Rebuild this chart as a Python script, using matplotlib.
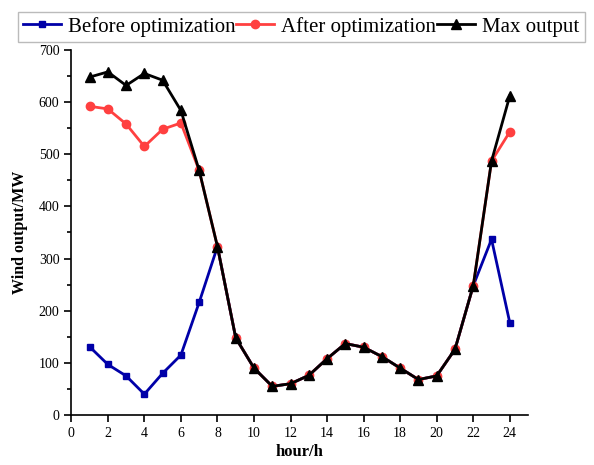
import matplotlib.pyplot as plt
from matplotlib.ticker import MultipleLocator

plt.rcParams['font.family'] = ['Liberation Serif', 'DejaVu Serif']

hours = list(range(1, 25))
before = [131, 97, 75, 40, 80, 115, 216, 323, 148, 90, 55, 60, 76, 108, 137, 130, 112, 90, 68, 75, 126, 248, 337, 177]
after = [592, 587, 558, 515, 548, 560, 469, 323, 148, 90, 55, 60, 76, 108, 137, 130, 112, 90, 68, 75, 126, 248, 487, 543]
max_out = [648, 658, 632, 655, 642, 584, 469, 323, 148, 90, 55, 60, 76, 108, 137, 130, 112, 90, 68, 75, 126, 248, 487, 612]

fig = plt.figure(figsize=(5.94, 4.65), dpi=100)
ax = fig.add_axes([0.12, 0.1075, 0.769, 0.785])

ax.plot(hours, before, color='#0000A8', marker='s', markersize=5, lw=2, label='Before optimization')
ax.plot(hours, after, color='#FF4040', marker='o', markersize=6, lw=2, label='After optimization')
ax.plot(hours, max_out, color='black', marker='^', markersize=6.5, lw=2, label='Max output')

ax.set_xlim(0, 25)
ax.set_ylim(0, 700)
ax.xaxis.set_major_locator(MultipleLocator(2))
ax.yaxis.set_major_locator(MultipleLocator(100))
ax.yaxis.set_minor_locator(MultipleLocator(50))
ax.tick_params(which='both', direction='out', labelsize=10, width=1.2)
ax.tick_params(which='major', length=5)
ax.tick_params(which='minor', length=3)
ax.spines['top'].set_visible(False)
ax.spines['right'].set_visible(False)
ax.spines['left'].set_linewidth(1.2)
ax.spines['bottom'].set_linewidth(1.2)

ax.set_xlabel('hour/h', fontsize=12, fontweight='bold', labelpad=3)
ax.set_ylabel('Wind output/MW', fontsize=11.5, fontweight='bold', labelpad=8)

fig.legend(loc='upper left', bbox_to_anchor=(0.03, 0.975), ncol=3, fontsize=15,
           frameon=True, fancybox=False, edgecolor='#AAAAAA', handlelength=1.8,
           handletextpad=0.35, columnspacing=0.05, borderpad=0.25, borderaxespad=0)

fig.savefig('out.png', dpi=100)
